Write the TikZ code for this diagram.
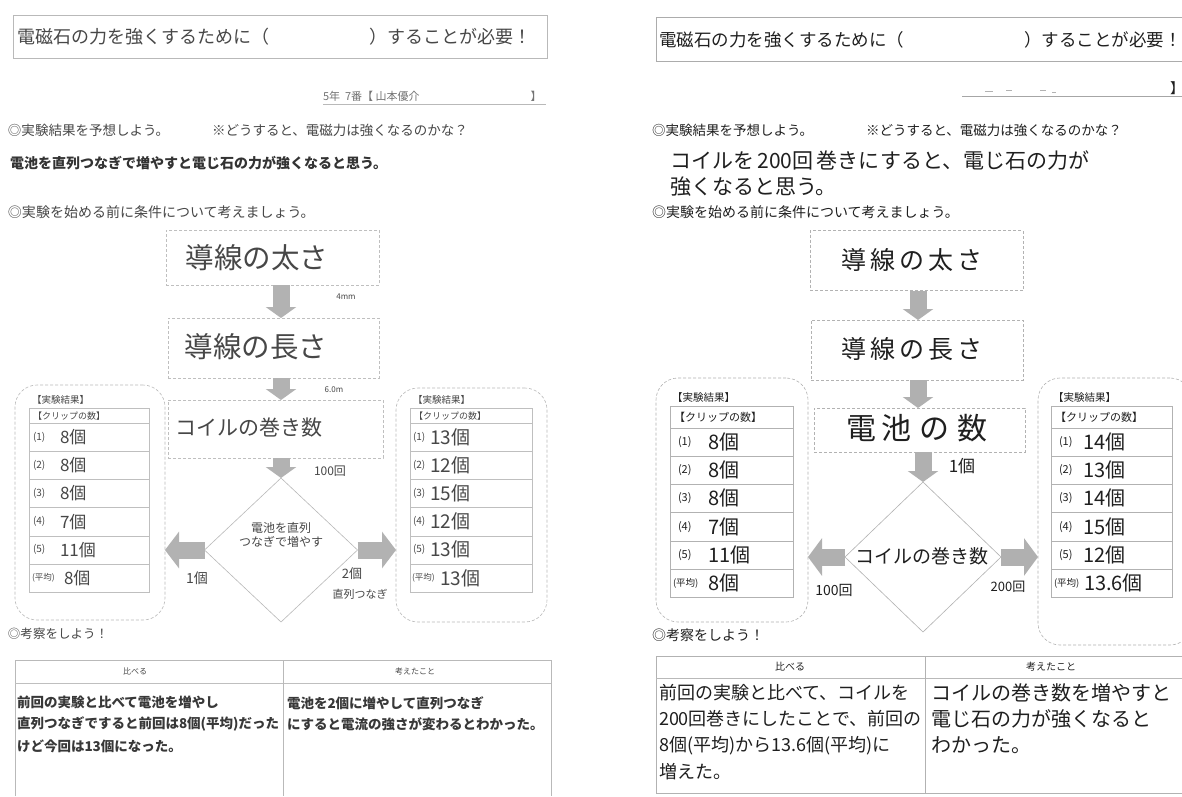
\documentclass[tikz,border=0pt]{standalone}
\usepackage{fontspec}
\setmainfont{Noto Sans CJK JP}
\usetikzlibrary{arrows.meta,shapes.geometric}
\newcommand{\myfs}[1]{\fontsize{#1}{#1}\selectfont}
\begin{document}
\begin{tikzpicture}[x=1pt,y=-1pt,
  every node/.style={inner sep=0pt,outer sep=0pt},
  lt/.style={text=black!72},
  rt/.style={text=black!88},
  wl/.style={anchor=west},
  frameL/.style={draw=gray!55,line width=0.7pt},
  frameR/.style={draw=gray!65,line width=0.7pt},
  cboxL/.style={draw=gray!50,dash pattern=on 3pt off 2pt,line width=0.6pt},
  cboxR/.style={draw=gray!60,dash pattern=on 3pt off 2pt,line width=0.6pt},
  resbox/.style={draw=gray!55,dash pattern=on 3pt off 2pt,line width=0.6pt,rounded corners=22pt},
  darrL/.style={draw=gray!60,line width=17pt,-{Triangle[width=30pt,length=11pt]}},
  darrR/.style={draw=gray!62,line width=17pt,-{Triangle[width=30pt,length=11pt]}},
  harrL/.style={draw=gray!60,line width=17pt,-{Triangle[width=36pt,length=14pt]}},
  harrR/.style={draw=gray!62,line width=17pt,-{Triangle[width=37pt,length=14pt]}},
  dia/.style={diamond,draw=gray!55,line width=0.6pt},
  tline/.style={draw=gray!60,line width=0.7pt},
]
\useasboundingbox (0,0) rectangle (1182,796);
\fill[white] (0,0) rectangle (1182,796);

%================ LEFT PANEL =================
\node[frameL,minimum width=534,minimum height=43] (Ltitle) at (280,36.5) {};
\node[lt,wl,font=\myfs{18}] (Ltitlet) at (17,37) {電磁石の力を強くするために（\hspace{100pt}）することが必要！};
\node[lt,wl,font=\myfs{11},text=black!55] (Lname) at (323,96) {5年\ \ 7番【 山本優介};
\node[lt,font=\myfs{11},text=black!55] (Lname2) at (536,96) {】};
\coordinate (Lu1) at (323,104); \coordinate (Lu2) at (546,104);
\draw[gray!55,line width=0.8pt] (Lu1) -- (Lu2);
\node[lt,wl,font=\myfs{13.5}] (Lq1) at (8,130) {◎実験結果を予想しよう。};
\node[lt,wl,font=\myfs{13.5}] (Lq2) at (212,130) {※どうすると、電磁力は強くなるのかな？};
\node[wl,font=\myfs{14}\bfseries,text=black!80] (Lpred) at (10,163) {電池を直列つなぎで増やすと電じ石の力が強くなると思う。};
\node[lt,wl,font=\myfs{14}] (Lcond) at (8,212) {◎実験を始める前に条件について考えましょう。};

% condition boxes
\node[cboxL,minimum width=213,minimum height=55] (Lb1) at (272.5,257.5) {};
\node[lt,font=\myfs{28.5}] (Lb1t) at (257,258) {導線の太さ};
\node[cboxL,minimum width=211,minimum height=60] (Lb2) at (273.5,348) {};
\node[lt,font=\myfs{28.5}] (Lb2t) at (256,347) {導線の長さ};
\node[cboxL,minimum width=215,minimum height=58] (Lb3) at (275.5,429) {};
\node[lt,font=\myfs{21}] (Lb3t) at (249,428) {コイルの巻き数};
\coordinate (Lax) at (281,0);
\node[dia,minimum width=153,minimum height=144] (Ldia) at (281,550) {};
\node[lt,font=\myfs{12},align=center] (Ldiat) at (281,535) {電池を直列\\[2pt]つなぎで増やす};

\draw[darrL] (Lb1.south -| Lax) -- (Lb2.north -| Lax);
\draw[darrL] (Lb2.south -| Lax) -- (Lb3.north -| Lax);
\draw[darrL] (Lb3.south -| Lax) -- (Ldia.north);
\node[lt,font=\myfs{8}] (Ll1) at (346,297) {4mm};
\node[lt,font=\myfs{8}] (Ll2) at (334,390) {6.0m};
\node[lt,font=\myfs{12}\itshape] (Ll3) at (330,471) {100回};

% result boxes
\node[resbox,minimum width=150,minimum height=235] (Lres1) at (90,502.5) {};
\node[resbox,minimum width=151,minimum height=234] (Lres2) at (471.5,505) {};
\draw[harrL] (Ldia.west) -- (Lres1.east |- Ldia.west);
\draw[harrL] (Ldia.east) -- (Lres2.west |- Ldia.east);
\node[lt,font=\myfs{14}] (Ll4) at (197,578) {1個};
\node[lt,font=\myfs{13}] (Ll5) at (352,574) {2個};
\node[lt,font=\myfs{11}] (Ll6) at (360,594) {直列つなぎ};

% left tables
\node[lt,wl,font=\myfs{9.5}] (LrA) at (32,400) {【実験結果】};
\node[lt,wl,font=\myfs{9.5}] (LrB) at (413,400) {【実験結果】};
\draw[tline,draw=gray!50] (29,408) rectangle (149,592.2);
\draw[tline,draw=gray!50] (410,408) rectangle (532,592.2);
\foreach \k in {0,...,5}{
  \draw[gray!50,line width=0.6pt] (29,423+28.2*\k) -- (149,423+28.2*\k);
  \draw[gray!50,line width=0.6pt] (410,423+28.2*\k) -- (532,423+28.2*\k);
}
\node[lt,wl,font=\myfs{9}] (LhA) at (33,416) {【クリップの数】};
\node[lt,wl,font=\myfs{9}] (LhB) at (414,416) {【クリップの数】};
\foreach \k/\a/\b in {0/(1)/8個,1/(2)/8個,2/(3)/8個,3/(4)/7個,4/(5)/11個}{
  \node[lt,wl,font=\myfs{10}] (LA\k) at (33,437+28.2*\k) {\a};
  \node[lt,wl,font=\myfs{17}] (LAv\k) at (60,437+28.2*\k) {\b};
}
\node[lt,wl,font=\myfs{8.5}] (LA5) at (32,578) {(平均)};
\node[lt,wl,font=\myfs{17}] (LAv5) at (64,578) {8個};
\foreach \k/\a/\b in {0/(1)/13個,1/(2)/12個,2/(3)/15個,3/(4)/12個,4/(5)/13個}{
  \node[lt,wl,font=\myfs{10}] (LB\k) at (413,437+28.2*\k) {\a};
  \node[lt,wl,font=\myfs{19}] (LBv\k) at (430,437+28.2*\k) {\b};
}
\node[lt,wl,font=\myfs{8.5}] (LB5) at (412,578) {(平均)};
\node[lt,wl,font=\myfs{19}] (LBv5) at (440,578) {13個};

% consideration
\node[lt,wl,font=\myfs{12.5}] (Lcons) at (8,634) {◎考察をしよう！};
\draw[tline,draw=gray!55] (15,796) -- (15,660) -- (551,660) -- (551,796);
\draw[gray!50,line width=0.6pt] (15,683) -- (551,683);
\draw[gray!55,line width=0.7pt] (283,660) -- (283,796);
\node[lt,font=\myfs{8}] (LcH1) at (135,671) {比べる};
\node[lt,font=\myfs{8}] (LcH2) at (415,671) {考えたこと};
\node[wl,font=\myfs{13.5}\bfseries,text=black!78,align=left] (LcT1) at (17,724) {前回の実験と比べて電池を増やし\\[7.5pt]直列つなぎですると前回は8個(平均)だった\\[7.5pt]けど今回は13個になった。};
\node[wl,font=\myfs{13.5}\bfseries,text=black!78,align=left] (LcT2) at (287,713.5) {電池を2個に増やして直列つなぎ\\[7.5pt]にすると電流の強さが変わるとわかった。};

%================ RIGHT PANEL =================
\node[frameR,minimum width=540,minimum height=44] (Rtitle) at (926,39) {};
\node[rt,wl,font=\myfs{17.5}] (Rtitlet) at (659,40) {電磁石の力を強くするために（\hspace{120pt}）することが必要！};
\coordinate (Ru1) at (962,96); \coordinate (Ru2) at (1182,96);
\draw[gray!70,line width=0.8pt] (Ru1) -- (Ru2);
\node[rt,font=\myfs{14}] (Rname) at (1177,88) {】};
\draw[gray!60,line width=0.6pt] (985,91) -- (993,91) (1006,90) -- (1012,90) (1040,90) -- (1046,90) (1052,92) -- (1056,92);
\node[rt,wl,font=\myfs{13.5}] (Rq1) at (652,130) {◎実験結果を予想しよう。};
\node[rt,wl,font=\myfs{13.5}] (Rq2) at (866,130) {※どうすると、電磁力は強くなるのかな？};
\node[rt,wl,font=\myfs{21}] (Rpred1) at (670,160) {コイルを\,200回\,巻きにすると、電じ石の力が};
\node[rt,wl,font=\myfs{21}] (Rpred2) at (670,187) {強くなると思う。};
\node[rt,wl,font=\myfs{14}] (Rcond) at (652,212) {◎実験を始める前に条件について考えましょう。};

\node[cboxR,minimum width=213,minimum height=60] (Rb1) at (916.5,260.5) {};
\node[rt,font=\myfs{25}] (Rb1t) at (912,260) {導\hspace{4pt}線\hspace{4pt}の\hspace{4pt}太\hspace{4pt}さ};
\node[cboxR,minimum width=212,minimum height=60] (Rb2) at (917,350) {};
\node[rt,font=\myfs{25}] (Rb2t) at (912,349) {導\hspace{4pt}線\hspace{4pt}の\hspace{4pt}長\hspace{4pt}さ};
\node[cboxR,minimum width=211,minimum height=44] (Rb3) at (919.5,430) {};
\node[rt,font=\myfs{30}] (Rb3t) at (917,428) {電\hspace{5pt}池\hspace{8pt}の\hspace{8pt}数};
\coordinate (Rax) at (918,0);
\node[dia,draw=gray!60,minimum width=156,minimum height=150] (Rdia) at (923,557) {};
\node[rt,font=\myfs{19}] (Rdiat) at (922,556) {コイルの巻き数};
\draw[darrR] (Rb1.south -| Rax) -- (Rb2.north -| Rax);
\draw[darrR] (Rb2.south -| Rax) -- (Rb3.north -| Rax);
\draw[darrR] (Rb3.south -| Rdia.north) -- (Rdia.north);
\node[rt,font=\myfs{17}] (Rl1) at (962,466) {1個};

\node[resbox,draw=gray!60,minimum width=152,minimum height=244] (Rres1) at (732,500) {};
\node[resbox,draw=gray!60,minimum width=154,minimum height=267] (Rres2) at (1115,511.5) {};
\draw[harrR] (Rdia.west) -- (Rres1.east |- Rdia.west);
\draw[harrR] (Rdia.east) -- (Rres2.west |- Rdia.east);
\node[rt,font=\myfs{14}] (Rl2) at (834,590) {100回};
\node[rt,font=\myfs{13}] (Rl3) at (1008,587) {200回};

\node[rt,wl,font=\myfs{10.5}] (RrA) at (672,397) {【実験結果】};
\node[rt,wl,font=\myfs{10.5}] (RrB) at (1053,397) {【実験結果】};
\draw[tline] (670,406) rectangle (793,597.2);
\draw[tline] (1051,406) rectangle (1172,597.2);
\foreach \k in {0,...,5}{
  \draw[gray!60,line width=0.6pt] (670,428+28.2*\k) -- (793,428+28.2*\k);
  \draw[gray!60,line width=0.6pt] (1051,428+28.2*\k) -- (1172,428+28.2*\k);
}
\node[rt,wl,font=\myfs{11}] (RhA) at (674,417) {【クリップの数】};
\node[rt,wl,font=\myfs{11}] (RhB) at (1055,417) {【クリップの数】};
\foreach \k/\a/\b in {0/(1)/8個,1/(2)/8個,2/(3)/8個,3/(4)/7個,4/(5)/11個}{
  \node[rt,wl,font=\myfs{11}] (RA\k) at (678,442+28.2*\k) {\a};
  \node[rt,wl,font=\myfs{20}] (RAv\k) at (708,442+28.2*\k) {\b};
}
\node[rt,wl,font=\myfs{9.5}] (RA5) at (673,583) {(平均)};
\node[rt,wl,font=\myfs{20}] (RAv5) at (708,583) {8個};
\foreach \k/\a/\b in {0/(1)/14個,1/(2)/13個,2/(3)/14個,3/(4)/15個,4/(5)/12個}{
  \node[rt,wl,font=\myfs{11}] (RB\k) at (1059,442+28.2*\k) {\a};
  \node[rt,wl,font=\myfs{20}] (RBv\k) at (1083,442+28.2*\k) {\b};
}
\node[rt,wl,font=\myfs{9.5}] (RB5) at (1054,583) {(平均)};
\node[rt,wl,font=\myfs{20}] (RBv5) at (1084,583) {13.6個};

\node[rt,wl,font=\myfs{14}] (Rcons) at (652,635) {◎考察をしよう！};
\draw[tline] (656,793) -- (656,656) -- (1182,656);
\draw[tline] (656,793) -- (1182,793);
\draw[gray!55,line width=0.6pt] (656,678) -- (1182,678);
\draw[gray!60,line width=0.7pt] (925,656) -- (925,793);
\node[rt,font=\myfs{10}] (RcH1) at (790,667) {比べる};
\node[rt,font=\myfs{10}] (RcH2) at (1051,667) {考えたこと};
\node[rt,wl,font=\myfs{18},align=left] (RcT1) at (659,732) {前回の実験と比べて、コイルを\\[8pt]200回巻きにしたことで、前回の\\[8pt]8個(平均)から13.6個(平均)に\\[8pt]増えた。};
\node[rt,wl,font=\myfs{20},align=left] (RcT2) at (931,719) {コイルの巻き数を増やすと\\[6pt]電じ石の力が強くなると\\[6pt]わかった。};
\end{tikzpicture}
\end{document}
